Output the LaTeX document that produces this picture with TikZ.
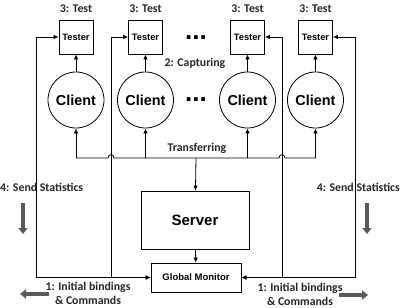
\documentclass[tikz,border=0pt]{standalone}
\usepackage{fontspec}
\setmainfont{Carlito}
\newfontfamily\arial{Liberation Sans}
\usetikzlibrary{arrows.meta}
\begin{document}
\begin{tikzpicture}[x=1pt,y=-1pt,
  lbl/.style={font=\bfseries\fontsize{11.8}{14}\selectfont, inner sep=0pt, text=black!85},
  box/.style={draw, line width=0.8pt, inner sep=0pt},
  tbox/.style={box, minimum width=34pt, minimum height=34pt, font=\arial\bfseries\fontsize{9.3}{11}\selectfont},
  cl/.style={box, circle, minimum size=56pt, font=\arial\bfseries\fontsize{14.4}{16}\selectfont},
  ln/.style={line width=0.8pt},
  arr/.style={ln, -{Latex[length=5pt,width=4.5pt]}},
  darr/.style={ln, {Latex[length=5pt,width=4.5pt]}-{Latex[length=5pt,width=4.5pt]}},
  fat/.style={line width=3.5pt, draw=black!65, -{Triangle[length=6pt,width=9pt]}},
  dotsty/.style={font=\arial\bfseries\fontsize{26}{26}\selectfont, inner sep=0pt}
]
\useasboundingbox (0,0) rectangle (400,308);

% testers
\node[tbox] (t1) at (76,37) {Tester};
\node[tbox] (t2) at (145.5,37) {Tester};
\node[tbox] (t3) at (247.5,37) {Tester};
\node[tbox] (t4) at (315.5,37) {Tester};
\node[lbl] (l1) at (76,9) {3: Test};
\node[lbl] (l2) at (145.5,9) {3: Test};
\node[lbl] (l3) at (247.5,9) {3: Test};
\node[lbl] (l4) at (315.5,9) {3: Test};

% clients
\node[cl] (c1) at (76,100) {Client};
\node[cl] (c2) at (145.5,100) {Client};
\node[cl] (c3) at (247.5,100) {Client};
\node[cl] (c4) at (315.5,100) {Client};

\node[dotsty] (d1) at (196,38) {...};
\node[dotsty] (d2) at (196,100) {...};
\node[lbl] (cap) at (195,63) {2: Capturing};
\node[lbl] (tr) at (197,148) {Transferring};

% server and monitor
\node[box, minimum width=108pt, minimum height=58pt, font=\arial\bfseries\fontsize{15}{17}\selectfont] (server) at (195,220) {Server};
\node[box, minimum width=90pt, minimum height=29pt, font=\arial\bfseries\fontsize{9.5}{11}\selectfont] (gm) at (196,277.5) {Global Monitor};

\coordinate (bus) at (196,158);

% client -> tester
\foreach \i in {1,2,3,4} {
  \draw[arr] (c\i) -- (t\i);
  \draw[arr] (c\i |- bus) -- (c\i.south);
}
% bus with hops
\draw[ln] (c1 |- bus) -- (108,158) .. controls (108,153.5) and (114,153.5) .. (114,158)
  -- (279,158) .. controls (279,153.5) and (285,153.5) .. (285,158) -- (c4 |- bus);
\draw[arr] (bus) -- (server);
\draw[arr] (server) -- (gm);

% monitor loops
\draw[darr] (t1.west) -- ++(-22,0) |- (gm.west);
\draw[darr] (t2.west) -- ++(-17,0) |- (gm.west);
\draw[darr] (t3.east) -- ++(17,0) |- (gm.east);
\draw[darr] (t4.east) -- ++(22,0) |- (gm.east);

% side labels
\node[lbl, anchor=west] (sl) at (0,187) {4: Send Statistics};
\node[lbl, anchor=east] (sr) at (400,187) {4: Send Statistics};
\node[lbl, align=center] (il) at (88,293) {1: Initial bindings\\\& Commands};
\node[lbl, align=center] (ir) at (300,294) {1: Initial bindings\\\& Commands};

\coordinate (fa1) at (23,203);
\coordinate (fa2) at (23,234);
\coordinate (fb1) at (367,203);
\coordinate (fb2) at (367,234);
\coordinate (fc1) at (49,294);
\coordinate (fc2) at (20,294);
\coordinate (fd1) at (339,295);
\coordinate (fd2) at (368,295);
\draw[fat] (fa1) -- (fa2);
\draw[fat] (fb1) -- (fb2);
\draw[fat] (fc1) -- (fc2);
\draw[fat] (fd1) -- (fd2);
\end{tikzpicture}
\end{document}
